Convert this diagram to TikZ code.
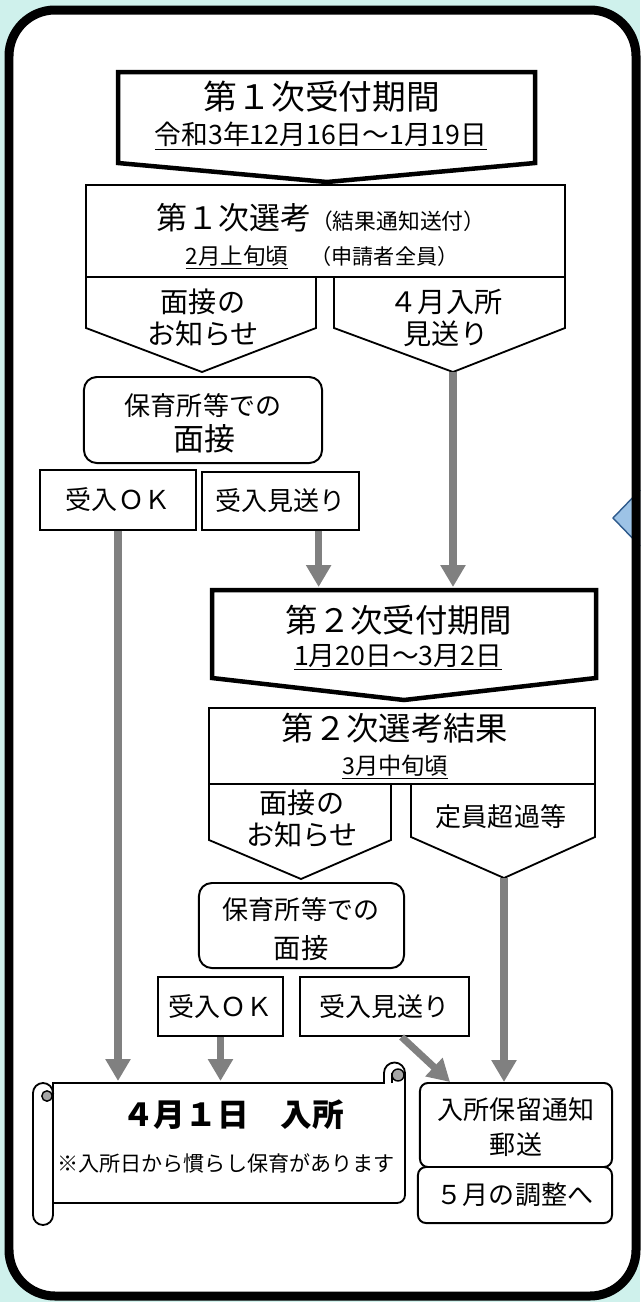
\documentclass[tikz,border=0pt]{standalone}
\usepackage{fontspec}
\setmainfont{Noto Sans CJK JP}
\usetikzlibrary{arrows.meta,calc}

\definecolor{bgteal}{HTML}{CFF1EC}
\definecolor{flowgray}{HTML}{808080}
\definecolor{curlgray}{HTML}{A6A6A6}
\definecolor{markblue}{HTML}{9DC3E6}
\definecolor{markedge}{HTML}{2E5A8C}

\tikzset{
  stage/.style={draw, line width=3.2pt, fill=white},
  frame/.style={draw, line width=1.3pt, fill=white},
  plainbox/.style={draw, line width=1.3pt, fill=white, inner sep=0pt},
  roundbox/.style={draw, line width=1.4pt, fill=white, inner sep=0pt},
  flow/.style={draw=flowgray, line width=5pt, -{Triangle[width=0.6cm,length=0.55cm]}},
  bigtext/.style={font=\fontsize{23}{26}\selectfont},
  midtext/.style={font=\fontsize{20}{23}\selectfont},
  boxtext/.style={font=\fontsize{18.5}{22}\selectfont},
  subtext/.style={font=\fontsize{15}{18}\selectfont},
}

\begin{document}
\begin{tikzpicture}[x=0.025cm, y=-0.025cm]
  \useasboundingbox (0,0) rectangle (640,1302);

  % 背景と外枠
  \fill[bgteal] (0,0) rectangle (640,1302);
  \fill[white, rounded corners=1.15cm] (9,10) rectangle (636,1296);
  \draw[markedge, fill=markblue, line width=1pt] (640,490) -- (613,518) -- (640,546);
  \draw[line width=6.4pt, rounded corners=1.15cm] (9,10) rectangle (636,1296);

  % 第1次選考
  \node[plainbox, minimum width=11.975cm, minimum height=2.3cm] (select1) at (325.5,231) {};
  \node[font=\fontsize{22}{26}\selectfont] at (321,218) {第１次選考{\fontsize{15.5}{17}\selectfont（結果通知送付）}};
  \node[font=\fontsize{16}{18}\selectfont] at (322,257) {\underline{2月上旬頃}　{\fontsize{15}{17}\selectfont（申請者全員）}};

  % 第1次受付期間
  \draw[stage] (118,72) -- (535,72) -- (535,163) -- (327,182) -- (118,163) -- cycle;
  \node[font=\fontsize{24}{28}\selectfont] at (322,97) {第１次受付期間};
  \node[font=\fontsize{19}{22}\selectfont] at (321,136) {\underline{令和3年12月16日～1月19日}};

  % 面接のお知らせ / 4月入所見送り
  \draw[frame] (86,277) -- (316,277) -- (316,328) -- (202,372) coordinate (notice1tip) -- (86,328) -- cycle;
  \draw[frame] (334,277) -- (565,277) -- (565,328) -- (453,372) coordinate (defertip) -- (334,328) -- cycle;
  \node[midtext, align=center] at (203,318) {面接の\\お知らせ};
  \node[midtext, align=center] at (446,318) {４月入所\\見送り};

  % 保育所等での面接
  \node[roundbox, rounded corners=0.32cm, minimum width=5.95cm, minimum height=2.15cm] (interview1) at (203,420) {};
  \node[boxtext] at (203,406) {保育所等での};
  \node[font=\fontsize{22}{24}\selectfont] at (204,439) {面接};

  % 受入OK / 受入見送り
  \node[plainbox, boxtext, minimum width=3.9cm, minimum height=1.5cm] (accept1) at (118,500) {受入ＯＫ};
  \node[plainbox, boxtext, minimum width=3.925cm, minimum height=1.45cm] (decline1) at (280.5,501) {受入見送り};

  % 第2次受付期間
  \draw[stage] (212,590) -- (596,590) -- (596,678) -- (404,700) -- (212,678) -- cycle;
  \coordinate (recv2top) at (404,587);
  \node[bigtext] at (399,620) {第２次受付期間};
  \node[font=\fontsize{19}{22}\selectfont] at (398,657) {\underline{1月20日～3月2日}};

  % 第2次選考結果
  \node[plainbox, minimum width=9.65cm, minimum height=1.9cm] (select2) at (402,746) {};
  \node[bigtext] at (395,728) {第２次選考結果};
  \node[font=\fontsize{16.5}{18}\selectfont] at (395,767) {\underline{3月中旬頃}};

  % 面接のお知らせ / 定員超過等
  \draw[frame] (209,784) -- (391,784) -- (391,840) -- (301,879) coordinate (notice2tip) -- (209,840) -- cycle;
  \draw[frame] (411,784) -- (595,784) -- (595,837) -- (504,878) coordinate (overtip) -- (411,837) -- cycle;
  \node[midtext, align=center] at (302,819) {面接の\\お知らせ};
  \node[boxtext] at (501,817) {定員超過等};

  % 保育所等での面接 (2)
  \node[roundbox, rounded corners=0.32cm, minimum width=5.125cm, minimum height=2.125cm] (interview2) at (301.5,925.5) {};
  \node[boxtext] at (301,910) {保育所等での};
  \node[font=\fontsize{19.5}{22}\selectfont] at (301,948) {面接};

  % 受入OK / 受入見送り (2)
  \node[plainbox, boxtext, minimum width=3.125cm, minimum height=1.475cm] (accept2) at (220.5,1006.5) {受入ＯＫ};
  \node[plainbox, boxtext, minimum width=4.225cm, minimum height=1.475cm] (decline2) at (384.5,1006.5) {受入見送り};

  % 4月1日入所 (巻物)
  \draw[line width=1.3pt, fill=white] (53,1083) -- (384,1083) -- (384,1073)
    arc[start angle=180, end angle=0, radius=0.2625cm] -- (405,1195)
    arc[start angle=0, end angle=-90, radius=0.2cm] -- (53,1203) -- cycle;
  \draw[line width=1.3pt, fill=white] (53,1093) -- (53,1215)
    arc[start angle=0, end angle=-180, radius=0.25cm] -- (33,1093)
    arc[start angle=180, end angle=0, radius=0.25cm] -- cycle;
  \filldraw[fill=curlgray, line width=1pt] (47,1096) circle[radius=0.13cm];
  \filldraw[fill=curlgray, line width=1pt] (398,1075) circle[radius=0.15cm];
  \draw[line width=1pt] (392,1073) -- (392,1083);
  \coordinate (scrolltop) at (229,1081);
  \node[font=\fontsize{22.5}{26}\selectfont\bfseries] at (233,1115) {４月１日　入所};
  \node[subtext] at (226,1163) {※入所日から慣らし保育があります};

  % 入所保留通知 / 5月の調整へ
  \node[roundbox, rounded corners=0.2cm, minimum width=4.8cm, minimum height=2.1cm] (hold) at (516,1125) {};
  \node[font=\fontsize{18.5}{25}\selectfont, align=center] at (516,1127) {入所保留通知\\郵送};
  \node[roundbox, rounded corners=0.2cm, boxtext, minimum width=4.85cm, minimum height=1.4cm] (nextmonth) at (515,1195) {５月の調整へ};

  % 矢印
  \coordinate (decline1out) at ($(decline1.south west)!0.74!(decline1.south east)$);
  \coordinate (decline2out) at ($(decline2.south west)!0.6!(decline2.south east)$);
  \draw[flow] (accept1.south) -- (accept1.south |- scrolltop);
  \draw[flow] (decline1out) -- (decline1out |- recv2top);
  \draw[flow] (defertip) -- (defertip |- recv2top);
  \draw[flow] (overtip) -- (overtip |- hold.north);
  \draw[flow] (accept2.south) -- (accept2.south |- scrolltop);
  \draw[flow] (decline2out) -- ($(hold.north west)!0.16!(hold.north east)$);
\end{tikzpicture}
\end{document}
